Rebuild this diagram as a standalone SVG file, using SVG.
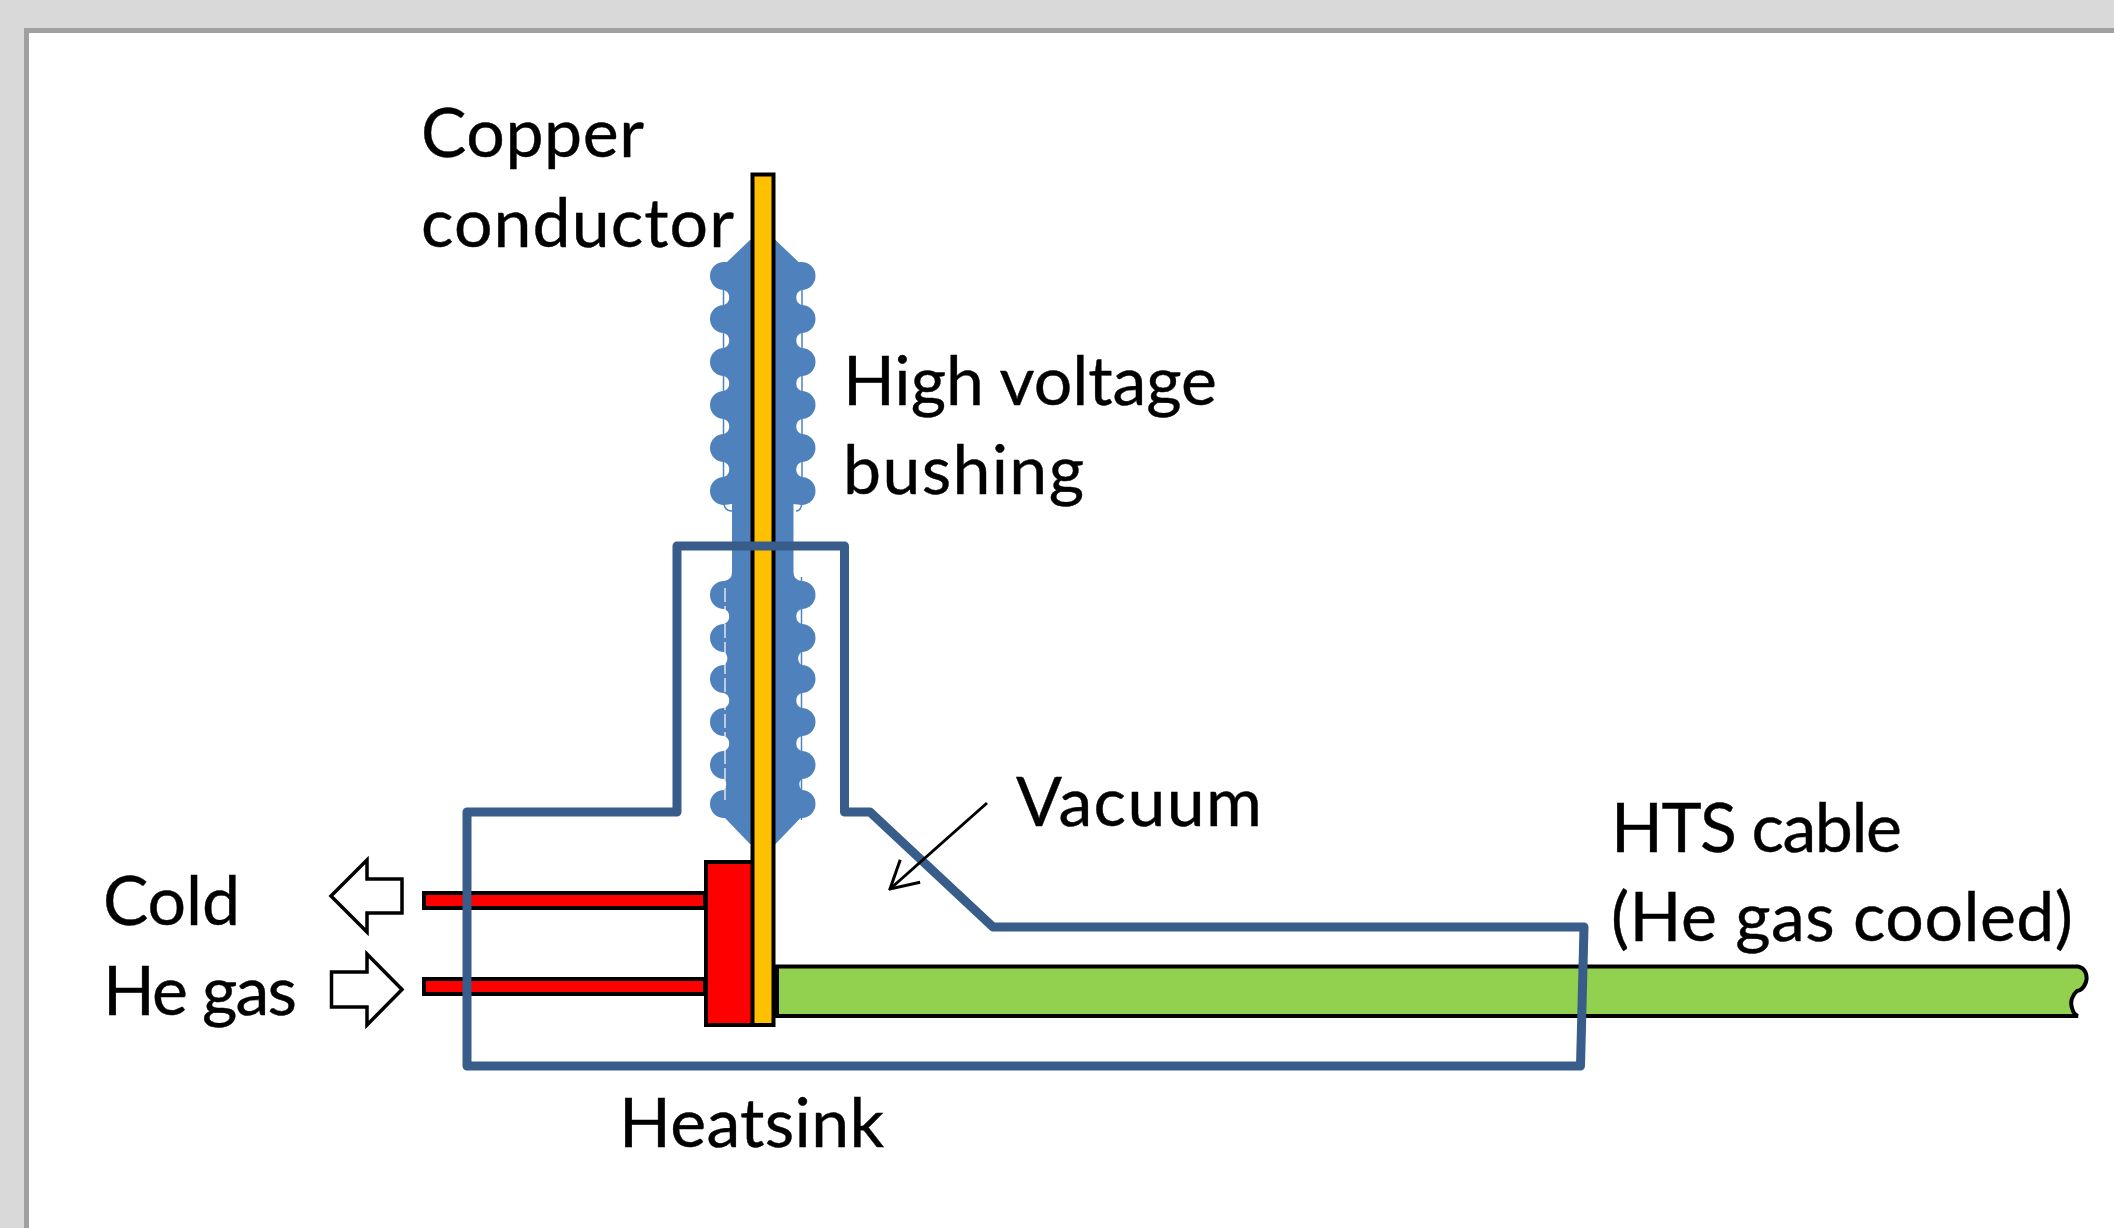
<svg xmlns="http://www.w3.org/2000/svg" xmlns:xlink="http://www.w3.org/1999/xlink" width="2114" height="1228" viewBox="0 0 2114 1228">
<style>
text{font-family:"Lato","Open Sans","Liberation Sans",sans-serif;font-size:68px;fill:#000;stroke:#000;stroke-width:.4}
.blk{stroke:#000;stroke-width:4;stroke-linejoin:miter}
.red{fill:#f00}
.cu{fill:#ffc000}
.arrow{fill:#fff;stroke:#000;stroke-width:3.5;stroke-linejoin:miter}
.bush{fill:#4f81bd}
.thin{fill:none;stroke:#4f81bd;stroke-width:1.5}
</style>
<defs>
<marker id="open" markerUnits="userSpaceOnUse" viewBox="-30 -18 32 36" refX="0" refY="0" markerWidth="32" markerHeight="36" orient="auto">
<path d="M-27,-15 L0,0 L-27,15" fill="none" stroke="#000" stroke-width="3"/>
</marker>
<path id="half" d="M764,238 L750,240 L727,262 L724,262 a14,14 0 0 0 0,28 a8,8 0 0 1 0,15 a14,14 0 0 0 0,28 a8,8 0 0 1 0,15 a14,14 0 0 0 0,28 a8,8 0 0 1 0,15 a14,14 0 0 0 0,28 a8,8 0 0 1 0,15 a14,14 0 0 0 0,28 a8,8 0 0 1 0,15 a14,14 0 0 0 0,28 L732,504 L732,572 Q732,580 724,581 a14,14 0 0 0 0,28 a8,8 0 0 1 0,15 a14,14 0 0 0 0,28 a8,8 0 0 1 0,13 a14,14 0 0 0 0,28 a8,8 0 0 1 0,15 a14,14 0 0 0 0,28 a8,8 0 0 1 0,15 a14,14 0 0 0 0,28 a8,8 0 0 1 0,11 a14,14 0 0 0 0,28 L725,818 L750,844 L764,846 Z"/>
</defs>
<g id="frame">
<rect width="2114" height="1228" fill="#d9d9d9"/>
<rect x="26.500" y="30.500" width="2100" height="1210" fill="#fff" stroke="#a0a0a0" stroke-width="5"/>
</g>
<g id="hts-cable">
<path class="blk" fill="#92d050" d="M777,966.500 L2078,966.500 C2085,968 2088,975 2086,982 C2084,988 2080,991 2077,991 C2072,995 2070,1002 2072,1008 C2073,1012 2075,1015 2078,1016 L777,1016 Z"/>
</g>
<g id="bushing">
<use href="#half" class="bush"/>
<use href="#half" class="bush" transform="matrix(-1 0 0 1 1525.500 0)"/>
<path class="thin" d="M723.500,290 V500 Q723.500,511 732,511"/>
<path class="thin" d="M802,290 V500 Q802,511 796,511"/>
<path class="thin" d="M801.500,577 V820"/>
<path d="M725,588 V800" fill="none" stroke="#fff" stroke-width="1.500" stroke-dasharray="14 4" opacity=".8"/>
</g>
<g id="heatsink">
<rect class="blk red" x="424" y="893" width="281" height="15"/>
<rect class="blk red" x="424" y="979" width="281" height="15"/>
<rect class="blk red" x="706" y="862" width="47" height="163"/>
</g>
<g id="copper-conductor">
<rect class="blk cu" x="752.500" y="174.500" width="21" height="850.500"/>
</g>
<g id="he-arrows">
<path class="arrow" d="M331,896 L367,860 V879 H402 V913 H367 V932 Z"/>
<path class="arrow" d="M402,989.500 L367,954 V972 H331.500 V1007 H367 V1025 Z"/>
</g>
<g id="vessel">
<path fill="none" stroke="#385d8a" stroke-width="9" stroke-linejoin="round" d="M467,812 H677 V546 H844.500 V812 H870 L993,927 H1584 L1580.500,1066 H467 Z"/>
</g>
<g id="connectors">
<path d="M987,803 L890,889" fill="none" stroke="#000" stroke-width="3" marker-end="url(#open)"/>
</g>
<g id="labels">
<text x="421" y="157" textLength="223">Copper</text>
<text x="421" y="247" textLength="313">conductor</text>
<text x="843" y="405" textLength="374">High voltage</text>
<text x="843" y="494" textLength="241">bushing</text>
<text x="1016" y="826" textLength="246">Vacuum</text>
<text x="1611" y="852" textLength="291">HTS cable</text>
<text x="1611" y="941" textLength="462">(He gas cooled)</text>
<text x="103" y="925" textLength="137">Cold</text>
<text x="103" y="1015" textLength="194">He gas</text>
<text x="619" y="1147" textLength="265">Heatsink</text>
</g>
</svg>
